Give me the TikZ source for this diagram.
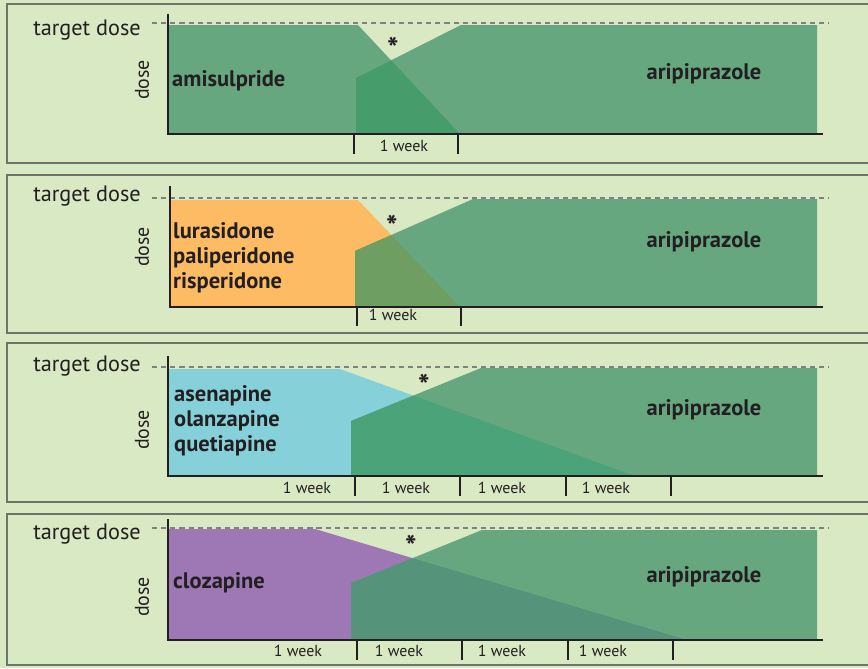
\documentclass[tikz,border=0pt]{standalone}
\usepackage{fontspec}
\setmainfont{PT Sans}
\usepackage{tikz}
\usetikzlibrary{positioning}
\definecolor{panelbg}{HTML}{D8E9C3}
\definecolor{framegray}{HTML}{6E7568}
\definecolor{inkdark}{HTML}{231F20}
\definecolor{aripgreen}{HTML}{67A77F}
\definecolor{amiover}{HTML}{479C6C}
\definecolor{lurorange}{HTML}{FDBB63}
\definecolor{lurover}{HTML}{6E9E62}
\definecolor{asecyan}{HTML}{86D1D9}
\definecolor{aseover}{HTML}{4BA37A}
\definecolor{clopurple}{HTML}{9D78B5}
\definecolor{cloover}{HTML}{56937B}
\tikzset{
  frame/.style={draw=framegray, line width=1.2pt},
  axis/.style={draw=inkdark, line width=1.6pt},
  target/.style={draw=gray, dash pattern=on 4.4pt off 3.4pt, line width=2.4pt},
  tickmark/.style={draw=inkdark, line width=1.6pt},
  tdose/.style={font=\fontsize{19}{22}\selectfont, text=inkdark, inner sep=0pt, anchor=base east},
  doselbl/.style={font=\fontsize{17}{20}\selectfont, text=inkdark, inner sep=0pt, rotate=90},
  drug/.style={font=\bfseries\fontsize{19.2}{21.3}\selectfont, text=inkdark, inner sep=0pt, align=left},
  weeklbl/.style={font=\fontsize{13.6}{16}\selectfont, text=inkdark, inner sep=0pt},
  star/.style={font=\bfseries\fontsize{26}{26}\selectfont, text=inkdark, inner sep=0pt, anchor=north}
}

\begin{document}
\begin{tikzpicture}[x=0.03cm, y=-0.03cm]
\useasboundingbox (0,0) rectangle (868,668);
\fill[panelbg] (0,0) rectangle (868,668);

% panel 1: amisulpride
\draw[frame] (868,4) -- (7,4) -- (7,163) -- (868,163);
\fill[aripgreen] (168,25) -- (358,25) -- (460,134) -- (168,134) -- cycle;
\fill[aripgreen] (356,134) -- (356,78) -- (461,25) -- (817,25) -- (817,134) -- cycle;
\begin{scope}
  \clip (168,25) -- (358,25) -- (460,134) -- (168,134) -- cycle;
  \fill[amiover] (356,134) -- (356,78) -- (461,25) -- (817,25) -- (817,134) -- cycle;
\end{scope}
\draw[target] (152,23) -- (829,23);
\draw[axis] (168,14) -- (168,134) -- (823,134);
\draw[tickmark] (354,134) -- (354,154) (458,134) -- (458,154);
\node[tdose] (td1) at (141,35) {target dose};
\node[doselbl] (ds1) at (142,80) {dose};
\node[drug, anchor=base west] (ami) at (172,86) {amisulpride};
\node[drug, anchor=base] (arip1) at (704,79) {aripiprazole};
\node[star] (st1) at (393,37) {*};
\node[weeklbl] (wk1) at (404,146) {1 week};

% panel 2: lurasidone, paliperidone, risperidone
\draw[frame] (868,175) -- (7,175) -- (7,333) -- (868,333);
\fill[lurorange] (170,200) -- (358,200) -- (460,307) -- (170,307) -- cycle;
\fill[aripgreen] (355,307) -- (355,251) -- (473,199) -- (817,199) -- (817,307) -- cycle;
\begin{scope}
  \clip (170,200) -- (358,200) -- (460,307) -- (170,307) -- cycle;
  \fill[lurover] (355,307) -- (355,251) -- (473,199) -- (817,199) -- (817,307) -- cycle;
\end{scope}
\draw[target] (152,198) -- (829,198);
\draw[axis] (170,186) -- (170,307) -- (823,307);
\draw[tickmark] (357,307) -- (357,326) (461,307) -- (461,326);
\node[tdose] (td2) at (141,201) {target dose};
\node[doselbl] (ds2) at (142,247) {dose};
\node[drug, anchor=base west] (lur) at (173,288) {lurasidone\\paliperidone\\risperidone};
\node[drug, anchor=base] (arip2) at (704,247) {aripiprazole};
\node[star] (st2) at (392,215) {*};
\node[weeklbl] (wk2) at (393,315) {1 week};

% panel 3: asenapine, olanzapine, quetiapine
\draw[frame] (868,343) -- (7,343) -- (7,502) -- (868,502);
\fill[asecyan] (168,369) -- (340,369) -- (635,476) -- (168,476) -- cycle;
\fill[aripgreen] (351,476) -- (351,421) -- (481,368) -- (817,368) -- (817,476) -- cycle;
\begin{scope}
  \clip (168,369) -- (340,369) -- (635,476) -- (168,476) -- cycle;
  \fill[aseover] (351,476) -- (351,421) -- (481,368) -- (817,368) -- (817,476) -- cycle;
\end{scope}
\draw[target] (152,367) -- (829,367);
\draw[axis] (168,356) -- (168,476) -- (823,476);
\foreach \tx in {355,460,566,671}
  \draw[tickmark] (\tx,476) -- (\tx,496);
\node[tdose] (td3) at (141,371) {target dose};
\node[doselbl] (ds3) at (142,430) {dose};
\node[drug, anchor=base west] (ase) at (174,451) {asenapine\\olanzapine\\quetiapine};
\node[drug, anchor=base] (arip3) at (704,415) {aripiprazole};
\node[star] (st3) at (424,374) {*};
\foreach \wx [count=\i] in {307,406,502,606}
  \node[weeklbl] (wk3\i) at (\wx,488) {1 week};

% panel 4: clozapine
\draw[frame] (868,514) -- (7,514) -- (7,665) -- (868,665);
\fill[clopurple] (168,529) -- (315,529) -- (687,640) -- (168,640) -- cycle;
\fill[aripgreen] (351,640) -- (351,583) -- (482,530) -- (817,530) -- (817,640) -- cycle;
\begin{scope}
  \clip (168,529) -- (315,529) -- (687,640) -- (168,640) -- cycle;
  \fill[cloover] (351,640) -- (351,583) -- (482,530) -- (817,530) -- (817,640) -- cycle;
\end{scope}
\draw[target] (152,528) -- (829,528);
\draw[axis] (168,519) -- (168,640) -- (823,640);
\foreach \tx in {357,462,568,673}
  \draw[tickmark] (\tx,640) -- (\tx,660);
\node[tdose] (td4) at (141,539) {target dose};
\node[doselbl] (ds4) at (142,597) {dose};
\node[drug, anchor=base west] (clo) at (173,588) {clozapine};
\node[drug, anchor=base] (arip4) at (704,582) {aripiprazole};
\node[star] (st4) at (411,535) {*};
\foreach \wx [count=\i] in {298,399,502,603}
  \node[weeklbl] (wk4\i) at (\wx,651) {1 week};
\end{tikzpicture}
\end{document}
